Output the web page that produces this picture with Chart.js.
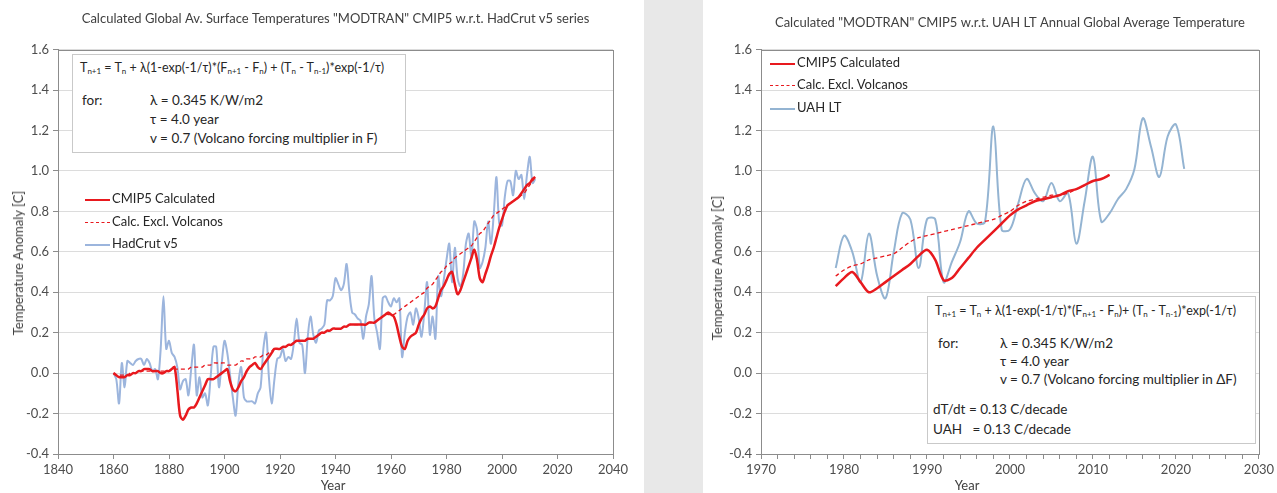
<!DOCTYPE html>
<html>
<head>
<meta charset="utf-8">
<script src="https://cdn.jsdelivr.net/npm/chart.js@4.4.1/dist/chart.umd.min.js"></script>
<style>
  body { margin: 0; width: 1277px; height: 493px; background: #fff; position: relative; overflow: hidden;
         font-family: Lato, "Open Sans", sans-serif; color: #262626; }
  #wrap-left  { position: absolute; left: 0;     top: 0; width: 644px; height: 493px; }
  #strip      { position: absolute; left: 644px; top: 0; width: 59px;  height: 493px; background: #e8e8e8; }
  #wrap-right { position: absolute; left: 703px; top: 0; width: 574px; height: 493px; }
  .txt  { position: absolute; font-size: 13.5px; white-space: nowrap; line-height: 1; }
  .eq   { font-size: 12.5px; }
  .box  { position: absolute; border: 1px solid #c9c9c9; background: #fff; }
  .ytitle { position: absolute; font-size: 13px; color: #404040; white-space: nowrap;
            transform: translate(-50%, -50%) rotate(-90deg); }
  .xtitle { position: absolute; font-size: 13px; color: #404040; transform: translate(-50%, -50%); }
  .lg   { position: absolute; font-size: 13px; white-space: nowrap; transform: translateY(-50%); color: #262626; }
  .lg i { display: inline-block; width: 25px; vertical-align: middle; margin-right: 2px; }
  sub { font-size: 8px; vertical-align: -2px; }
</style>
</head>
<body>
<div id="wrap-left"><canvas id="chart-left"></canvas></div>
<div id="strip"></div>
<div id="wrap-right"><canvas id="chart-right"></canvas></div>

<!-- axis titles -->
<div class="ytitle" style="left:18px; top:263px;">Temperature Anomaly [C]</div>
<div class="xtitle" style="left:333px; top:485px;">Year</div>
<div class="ytitle" style="left:717px; top:268px;">Temperature Anomaly [C]</div>
<div class="xtitle" style="left:967px; top:485px;">Year</div>

<!-- left equation box -->
<div class="box" style="left:72px; top:54px; width:332px; height:97px;"></div>
<div class="txt eq" style="left:80px; top:62px;">T<sub>n+1</sub> = T<sub>n</sub> + λ(1-exp(-1/τ)*(F<sub>n+1</sub> - F<sub>n</sub>) + (T<sub>n</sub> - T<sub>n-1</sub>)*exp(-1/τ)</div>
<div class="txt" style="left:82px; top:94px;">for:</div>
<div class="txt" style="left:150px; top:94px;">λ = 0.345 K/W/m2</div>
<div class="txt" style="left:150px; top:113px;">τ = 4.0 year</div>
<div class="txt" style="left:150px; top:132px;">v = 0.7 (Volcano forcing multiplier in F)</div>

<!-- left legend -->
<div class="lg" style="left:85px; top:198px;"><i style="border-top:2.5px solid #e8191e;"></i>CMIP5 Calculated</div>
<div class="lg" style="left:85px; top:221px;"><i style="border-top:1.5px dashed #e8191e;"></i>Calc. Excl. Volcanos</div>
<div class="lg" style="left:85px; top:243px;"><i style="border-top:2px solid #9cb5dd;"></i>HadCrut v5</div>

<!-- right legend -->
<div class="lg" style="left:770px; top:62px;"><i style="border-top:2.5px solid #e8191e;"></i>CMIP5 Calculated</div>
<div class="lg" style="left:770px; top:84px;"><i style="border-top:1.5px dashed #e8191e;"></i>Calc. Excl. Volcanos</div>
<div class="lg" style="left:770px; top:107px;"><i style="border-top:2px solid #94b4d2;"></i>UAH LT</div>

<!-- right equation box -->
<div class="box" style="left:927px; top:296px; width:327px; height:146px;"></div>
<div class="txt eq" style="left:935px; top:305px;">T<sub>n+1</sub> = T<sub>n</sub> + λ(1-exp(-1/τ)*(F<sub>n+1</sub> - F<sub>n</sub>)+ (T<sub>n</sub> - T<sub>n-1</sub>)*exp(-1/τ)</div>
<div class="txt" style="left:938px; top:337px;">for:</div>
<div class="txt" style="left:1000px; top:337px;">λ = 0.345 K/W/m2</div>
<div class="txt" style="left:1000px; top:355px;">τ = 4.0 year</div>
<div class="txt" style="left:1000px; top:373px;">v = 0.7 (Volcano forcing multiplier in ΔF)</div>
<div class="txt" style="left:933px; top:403px;">dT/dt = 0.13 C/decade</div>
<div class="txt" style="left:933px; top:423px;">UAH &nbsp; = 0.13 C/decade</div>

<script>
// Left chart: annual series starting 1860
const LEFT_START = 1860;

const hadcrut = [
   0.00, -0.03, -0.15,  0.05, -0.07,  0.06,  0.05,  0.04,  0.06,  0.07,
   0.07,  0.04,  0.07,  0.05,  0.01,  0.02, -0.03,  0.12,  0.38,  0.12,
   0.16,  0.10,  0.08,  0.03, -0.08, -0.04, -0.03, -0.11,  0.02,  0.14,
  -0.11, -0.02, -0.12, -0.10, -0.16, -0.02,  0.13,  0.13, -0.07,  0.05,
   0.16,  0.10, -0.01, -0.12, -0.21, -0.05,  0.03, -0.12, -0.14, -0.14,
  -0.14, -0.15, -0.10, -0.07,  0.12,  0.20, -0.02, -0.15, -0.03,  0.07,
   0.08,  0.12,  0.06,  0.08,  0.07,  0.15,  0.27,  0.15,  0.14,  0.00,
   0.18,  0.28,  0.19,  0.15,  0.21,  0.22,  0.24,  0.36,  0.36,  0.38,
   0.47,  0.44,  0.41,  0.44,  0.54,  0.40,  0.30,  0.29,  0.27,  0.26,
   0.17,  0.28,  0.34,  0.48,  0.27,  0.20,  0.12,  0.37,  0.38,  0.35,
   0.33,  0.37,  0.35,  0.37,  0.08,  0.20,  0.28,  0.30,  0.24,  0.32,
   0.27,  0.18,  0.30,  0.45,  0.19,  0.28,  0.17,  0.48,  0.38,  0.46,
   0.56,  0.64,  0.45,  0.62,  0.47,  0.43,  0.49,  0.64,  0.69,  0.57,
   0.75,  0.71,  0.52,  0.55,  0.62,  0.75,  0.64,  0.78,  0.97,  0.74,
   0.73,  0.87,  0.95,  0.95,  0.88,  1.00,  0.96,  0.98,  0.86,  0.98,
   1.07,  0.94,  0.96,
];

const cmipLeft = [
   0.00, -0.01, -0.02, -0.02, -0.02, -0.01, -0.01,  0.00,  0.00,  0.01,
   0.01,  0.02,  0.02,  0.02,  0.01,  0.01,  0.01,  0.00,  0.00,  0.01,
   0.01,  0.02,  0.03, -0.08, -0.21, -0.23, -0.21, -0.18, -0.17, -0.17,
  -0.15, -0.12, -0.09, -0.06, -0.03, -0.03, -0.03, -0.02, -0.01,  0.00,
   0.01,  0.02, -0.04, -0.08, -0.09, -0.07, -0.04, -0.02,  0.01,  0.03,
   0.04,  0.05,  0.03,  0.02,  0.04,  0.06,  0.08,  0.10,  0.12,  0.12,
   0.12,  0.13,  0.13,  0.14,  0.14,  0.15,  0.16,  0.16,  0.16,  0.16,
   0.17,  0.17,  0.17,  0.18,  0.19,  0.20,  0.20,  0.21,  0.21,  0.22,
   0.22,  0.22,  0.22,  0.23,  0.23,  0.24,  0.24,  0.24,  0.24,  0.24,
   0.24,  0.24,  0.25,  0.25,  0.25,  0.26,  0.27,  0.28,  0.29,  0.30,
   0.29,  0.28,  0.24,  0.18,  0.13,  0.12,  0.16,  0.18,  0.19,  0.20,
   0.24,  0.27,  0.29,  0.32,  0.33,  0.32,  0.33,  0.37,  0.41,  0.43,
   0.46,  0.49,  0.50,  0.44,  0.39,  0.41,  0.45,  0.49,  0.53,  0.57,
   0.61,  0.56,  0.47,  0.45,  0.49,  0.53,  0.58,  0.62,  0.67,  0.72,
   0.76,  0.80,  0.83,  0.84,  0.85,  0.86,  0.87,  0.89,  0.91,  0.93,
   0.94,  0.96,  0.97,
];

const exclVolcLeft = [
   0.00, -0.01, -0.01, -0.01, -0.01, -0.01,  0.00,  0.00,  0.00,  0.01,
   0.01,  0.01,  0.01,  0.01,  0.01,  0.01,  0.01,  0.01,  0.01,  0.01,
   0.01,  0.02,  0.02,  0.02,  0.02,  0.02,  0.02,  0.02,  0.03,  0.03,
   0.03,  0.03,  0.03,  0.04,  0.04,  0.04,  0.05,  0.05,  0.05,  0.05,
   0.05,  0.04,  0.04,  0.04,  0.04,  0.05,  0.06,  0.06,  0.07,  0.07,
   0.07,  0.08,  0.08,  0.08,  0.09,  0.09,  0.10,  0.11,  0.12,  0.12,
   0.12,  0.13,  0.13,  0.14,  0.14,  0.15,  0.16,  0.16,  0.16,  0.16,
   0.17,  0.17,  0.17,  0.18,  0.19,  0.20,  0.20,  0.21,  0.21,  0.22,
   0.22,  0.22,  0.22,  0.23,  0.23,  0.24,  0.24,  0.24,  0.24,  0.24,
   0.24,  0.24,  0.25,  0.25,  0.25,  0.26,  0.27,  0.28,  0.29,  0.29,
   0.29,  0.29,  0.30,  0.31,  0.32,  0.33,  0.34,  0.35,  0.36,  0.37,
   0.38,  0.39,  0.40,  0.42,  0.43,  0.44,  0.46,  0.48,  0.50,  0.51,
   0.53,  0.54,  0.55,  0.57,  0.58,  0.59,  0.60,  0.61,  0.62,  0.63,
   0.65,  0.67,  0.69,  0.70,  0.72,  0.74,  0.76,  0.78,  0.79,  0.80,
   0.81,  0.82,  0.83,  0.84,  0.85,  0.86,  0.87,  0.88,  0.89,  0.91,
   0.93,  0.95,  0.97,
];

// Right chart: annual series starting 1979
const RIGHT_START = 1979;

const uahLT = [
  0.52, 0.68, 0.60, 0.45, 0.69, 0.48, 0.37, 0.60, 0.79, 0.76,
  0.52, 0.76, 0.76, 0.45, 0.55, 0.65, 0.80, 0.74, 0.75, 1.22,
  0.71, 0.71, 0.84, 0.96, 0.89, 0.85, 0.94, 0.85, 0.89, 0.64,
  0.85, 1.07, 0.75, 0.79, 0.86, 0.91, 1.01, 1.26, 1.12, 0.97,
  1.17, 1.23, 1.01,
];

const cmipRight = [
  0.43, 0.47, 0.50, 0.45, 0.40, 0.42, 0.45, 0.48, 0.51, 0.54,
  0.58, 0.61, 0.56, 0.46, 0.47, 0.52, 0.57, 0.62, 0.66, 0.70,
  0.74, 0.78, 0.81, 0.83, 0.85, 0.86, 0.87, 0.88, 0.90, 0.91,
  0.93, 0.95, 0.96, 0.98,
];

const exclVolcRight = [
  0.48, 0.51, 0.53, 0.54, 0.56, 0.57, 0.58, 0.59, 0.62, 0.65,
  0.67, 0.68, 0.69, 0.70, 0.71, 0.72, 0.73, 0.74, 0.75, 0.76,
  0.78, 0.80, 0.83, 0.85, 0.86, 0.87, 0.88, 0.88, 0.89, 0.91,
  0.93, 0.95, 0.96, 0.98,
];

const RED   = '#e8191e';
const FONT  = 'Lato, "Open Sans", sans-serif';
const AXIS_COLOR = '#8c8c8c';
const GRID_COLOR = '#dcdcdc';
const TICK_COLOR = '#4d4d4d';

function points(start, values) {
  return values.map((v, i) => ({ x: start + i, y: v }));
}

function dataset(label, data, color, width, dash, tension) {
  return {
    label,
    data,
    borderColor: color,
    backgroundColor: 'transparent',
    borderWidth: width,
    borderDash: dash || [],
    pointRadius: 0,
    tension,
  };
}

// plot area frame (Excel style box)
const frame = {
  id: 'frame',
  beforeDatasetsDraw(chart) {
    const { ctx, chartArea: a } = chart;
    ctx.save();
    ctx.strokeStyle = AXIS_COLOR;
    ctx.lineWidth = 1;
    ctx.strokeRect(Math.round(a.left) + 0.5, Math.round(a.top) + 0.5,
                   Math.round(a.right - a.left), Math.round(a.bottom - a.top));
    ctx.restore();
  },
};

function options(title, xMin, xMax, xStep, labelStep, padRight, titlePad) {
  return {
    animation: false,
    responsive: true,
    maintainAspectRatio: false,
    layout: { padding: { left: 0, right: padRight, top: 0, bottom: 0 } },
    plugins: {
      legend: { display: false },
      tooltip: { enabled: false },
      title: {
        display: true,
        text: title,
        fullSize: false,
        color: '#404040',
        font: { family: FONT, size: 13, weight: 'normal' },
        padding: titlePad,
      },
    },
    scales: {
      x: {
        type: 'linear',
        min: xMin,
        max: xMax,
        afterFit: (s) => { s.height = 39; },
        border: { color: AXIS_COLOR },
        grid: { drawOnChartArea: false, tickLength: 5, color: AXIS_COLOR },
        ticks: {
          stepSize: xStep,
          autoSkip: false,
          maxRotation: 0,
          padding: 3,
          color: TICK_COLOR,
          font: { family: FONT, size: 13 },
          callback: (v) => (v % labelStep === 0 ? String(v) : ''),
        },
      },
      y: {
        min: -0.4,
        max: 1.6,
        afterFit: (s) => { s.width = 58; },
        border: { color: AXIS_COLOR },
        grid: { color: GRID_COLOR, tickColor: AXIS_COLOR, tickLength: 5 },
        ticks: {
          stepSize: 0.2,
          padding: 4,
          color: TICK_COLOR,
          font: { family: FONT, size: 13 },
          callback: (v) => (Math.abs(v) < 1e-9 ? '0.0' : v.toFixed(1)),
        },
      },
    },
  };
}

new Chart(document.getElementById('chart-left'), {
  type: 'line',
  data: {
    datasets: [
      dataset('CMIP5 Calculated',     points(LEFT_START, cmipLeft),     RED,       2.5, null,   0.3),
      dataset('Calc. Excl. Volcanos', points(LEFT_START, exclVolcLeft), RED,       1.3, [4, 3], 0.3),
      dataset('HadCrut v5',           points(LEFT_START, hadcrut),      '#9cb5dd', 2,   null,   0.3),
    ],
  },
  options: options('Calculated Global Av. Surface Temperatures "MODTRAN" CMIP5 w.r.t. HadCrut v5 series',
                   1840, 2040, 20, 20, 31, { top: 11, bottom: 23 }),
  plugins: [frame],
});

new Chart(document.getElementById('chart-right'), {
  type: 'line',
  data: {
    datasets: [
      dataset('CMIP5 Calculated',     points(RIGHT_START, cmipRight),     RED,       2.5, null,   0.3),
      dataset('Calc. Excl. Volcanos', points(RIGHT_START, exclVolcRight), RED,       1.3, [4, 3], 0.3),
      dataset('UAH LT',               points(RIGHT_START, uahLT),         '#94b4d2', 2,   null,   0.35),
    ],
  },
  options: options('Calculated "MODTRAN" CMIP5 w.r.t. UAH LT Annual Global Average Temperature',
                   1970, 2030, 2, 10, 18, { top: 15, bottom: 19 }),
  plugins: [frame],
});
</script>
</body>
</html>
